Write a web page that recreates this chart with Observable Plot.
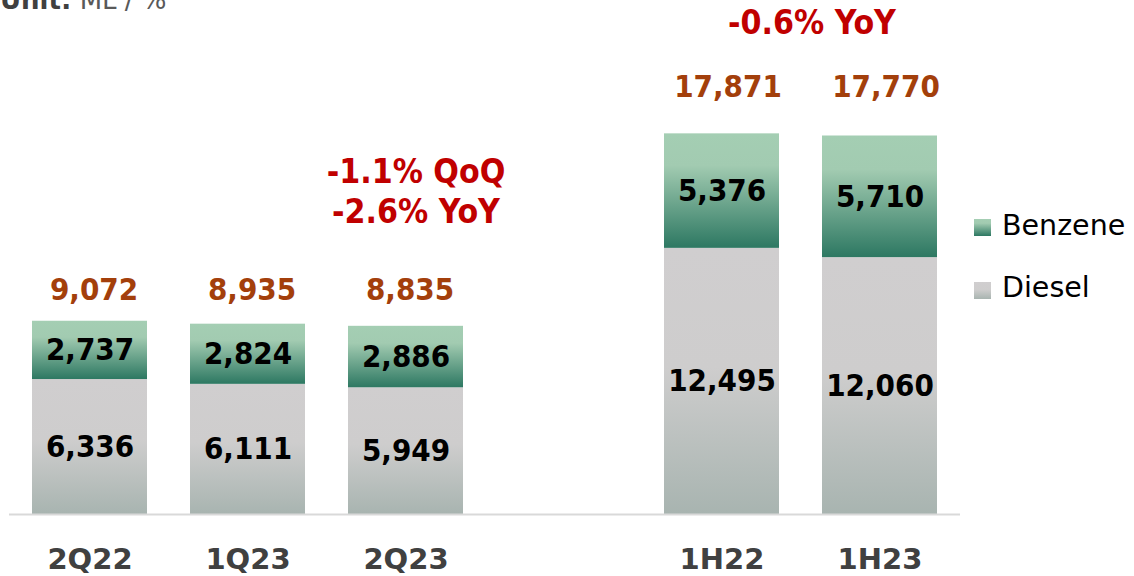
<!DOCTYPE html>
<html>
<head>
<meta charset="utf-8">
<script src="https://cdn.jsdelivr.net/npm/d3@7"></script>
<script src="https://cdn.jsdelivr.net/npm/@observablehq/plot@0.6"></script>
<style>
  html, body { margin: 0; padding: 0; background: #fff; }
  #wrap { position: relative; width: 1134px; height: 576px; overflow: hidden; }
  .unit { position: absolute; left: 0; top: -13px; font: 26px/1 "DejaVu Sans"; color: #595959; white-space: nowrap; }
  .unit b { color: #404040; }
  .sw { position: absolute; width: 17px; height: 17px; }
  .lg { position: absolute; font: 28.5px/1 "DejaVu Sans"; color: #000; white-space: nowrap; }
</style>
</head>
<body>
<div id="wrap">
  <div class="unit"><b>Unit:</b> ML / %</div>
  <div class="sw" style="left:974px;top:219px;background:linear-gradient(#a4ceb3,#a2cbb1 25%,#2d7862)"></div>
  <div class="lg" style="left:1002px;top:212px">Benzene</div>
  <div class="sw" style="left:974px;top:282px;background:linear-gradient(#d0cecf,#cecdcd 45%,#a8b4b0)"></div>
  <div class="lg" style="left:1002px;top:274px">Diesel</div>
</div>
<script>
// ---- data ----
const periods = ["2Q22", "1Q23", "2Q23", "1H22", "1H23"];
const diesel  = [6336, 6111, 5949, 12495, 12060];
const benzene = [2737, 2824, 2886, 5376, 5710];
const totals  = [9072, 8935, 8835, 17871, 17770];
const groups  = ["Q", "Q", "Q", "H", "H"];
const xDomain = ["2Q22", "1Q23", "2Q23", "gap", "1H22", "1H23"];
const noteTexts = ["-1.1% QoQ", "-2.6% YoY", "-0.6% YoY"];

// ---- tables ----
const rows = [];
periods.forEach((p, i) => {
  rows.push({period: p, series: "Diesel", value: diesel[i]});
  rows.push({period: p, series: "Benzene", value: benzene[i]});
});
const totalRows = periods.map((p, i) => ({period: p, total: totals[i], group: groups[i]}));
const groupTop = g => d3.max(totalRows.filter(d => d.group === g), d => d.total);
const fmt = d3.format(",");
const numFont = "'DejaVu Sans Condensed', 'DejaVu Sans', sans-serif";

const svg = Plot.plot({
  width: 1134,
  height: 576,
  marginLeft: 9,
  marginRight: 174,
  marginTop: 88,
  marginBottom: 62,
  style: {fontFamily: "DejaVu Sans", background: "transparent", overflow: "visible"},
  x: {domain: xDomain, paddingInner: 0.27, paddingOuter: 0.135, axis: null, label: null},
  y: {domain: [0, 20000], axis: null, label: null},
  color: {type: "ordinal", domain: ["Diesel", "Benzene"], range: ["url(#gDies)", "url(#gBenz)"]},
  marks: [
    Plot.barY(rows, {x: "period", y: "value", fill: "series", z: "series"}),
    Plot.ruleY([0], {stroke: "#d9d9d9", strokeWidth: 2}),
    Plot.text(rows, Plot.stackY({
      x: "period", y: "value", z: "series", text: d => fmt(d.value),
      fontSize: 31, fontWeight: "bold", fill: "#000", fontFamily: numFont, lineAnchor: "middle"
    })),
    Plot.text(totalRows.filter(d => d.group === "Q"), {
      x: "period", y: () => groupTop("Q"), text: d => fmt(d.total), dx: 4, dy: -31,
      fontSize: 31, fontWeight: "bold", fill: "#a33f0b", fontFamily: numFont, lineAnchor: "middle"
    }),
    Plot.text(totalRows.filter(d => d.group === "H"), {
      x: "period", y: () => groupTop("H"), text: d => fmt(d.total), dx: 6, dy: -47,
      fontSize: 31, fontWeight: "bold", fill: "#a33f0b", fontFamily: numFont, lineAnchor: "middle"
    }),
    Plot.text([noteTexts[0]], {x: () => "2Q23", frameAnchor: "top", text: d => d, dx: 10, dy: 84,
      fontSize: 33.5, fontWeight: "bold", fill: "#c00000", fontFamily: numFont, lineAnchor: "middle"}),
    Plot.text([noteTexts[1]], {x: () => "2Q23", frameAnchor: "top", text: d => d, dx: 10, dy: 124,
      fontSize: 33.5, fontWeight: "bold", fill: "#c00000", fontFamily: numFont, lineAnchor: "middle"}),
    Plot.text([noteTexts[2]], {x: () => "1H22", frameAnchor: "top", text: d => d, dx: 90, dy: -65,
      fontSize: 33.5, fontWeight: "bold", fill: "#c00000", fontFamily: numFont, lineAnchor: "middle"}),
    Plot.axisX({
      domain: xDomain, tickSize: 0, tickPadding: 34, fontSize: 29, fontWeight: "bold",
      color: "#404040", label: null, tickFormat: d => d === "gap" ? "" : d
    })
  ]
});

const defs = document.createElementNS("http://www.w3.org/2000/svg", "defs");
defs.innerHTML = `
  <linearGradient id="gBenz" x1="0" y1="0" x2="0" y2="1">
    <stop offset="0" stop-color="#a4ceb3"/>
    <stop offset="0.28" stop-color="#a2cbb1"/>
    <stop offset="1" stop-color="#2d7862"/>
  </linearGradient>
  <linearGradient id="gDies" x1="0" y1="0" x2="0" y2="1">
    <stop offset="0" stop-color="#d0cecf"/>
    <stop offset="0.45" stop-color="#cecdcd"/>
    <stop offset="1" stop-color="#a8b4b0"/>
  </linearGradient>`;
svg.insertBefore(defs, svg.firstChild);
svg.style.position = "absolute";
svg.style.left = "0";
svg.style.top = "0";
document.getElementById("wrap").prepend(svg);
</script>
</body>
</html>
